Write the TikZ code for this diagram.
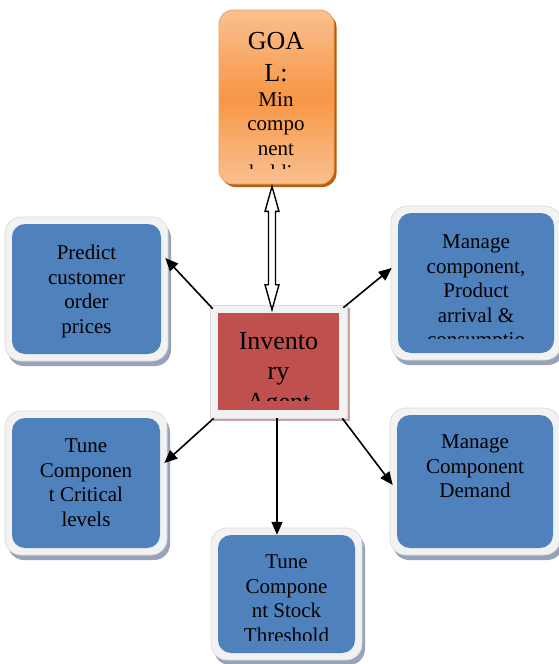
\documentclass[tikz,border=0pt]{standalone}
\usepackage{fontspec}
\setmainfont{Liberation Serif}
\usetikzlibrary{calc,arrows.meta}

\definecolor{taskblue}{HTML}{4F81BD}
\definecolor{taskframe}{HTML}{F2F2F2}
\definecolor{taskedge}{HTML}{DADADA}
\definecolor{taskshadow}{HTML}{97A3BA}
\definecolor{agentred}{HTML}{C0504D}
\definecolor{agentshadow}{HTML}{C9A2A2}
\definecolor{goalmid}{HTML}{F79646}
\definecolor{goallight}{HTML}{FAC090}
\definecolor{goalshadow}{HTML}{B8600F}
\definecolor{goaledge}{HTML}{F3A05C}

\tikzset{
  tshadow/.style={rectangle, rounded corners=16pt, fill=taskshadow, inner sep=0},
  tframe/.style={rectangle, rounded corners=16pt, fill=taskframe, draw=taskedge, line width=0.6pt, inner sep=0},
  tinner/.style={rectangle, rounded corners=13pt, fill=taskblue, inner sep=0},
  tasktext/.style={font=\fontsize{21}{24.5}\selectfont, align=center, inner sep=0, anchor=north},
  link/.style={line width=1.6pt, -{Triangle[length=13pt,width=11pt]}},
  dbl/.style={line width=1.4pt, fill=white, line join=miter},
}

% task box: name, centre x, centre y, inner width, inner height
\newcommand\taskbox[5]{%
  \node[tshadow, minimum width=#4+14, minimum height=#5+14] (#1S) at (#2+3,#3+5) {};
  \node[tframe, minimum width=#4+14, minimum height=#5+14] (#1F) at (#2,#3) {};
  \node[tinner, minimum width=#4, minimum height=#5] (#1) at (#2,#3) {};
}

\begin{document}
\begin{tikzpicture}[x=1pt,y=-1pt]
\useasboundingbox[fill=white] (0,0) rectangle (559,664);

% goal
\node[rectangle, rounded corners=14pt, fill=goalshadow, inner sep=0,
      minimum width=115, minimum height=174] (goalS) at (279,100) {};
\node[rectangle, rounded corners=14pt, inner sep=0, draw=goaledge, line width=0.8pt,
      top color=goallight, bottom color=goallight, middle color=goalmid,
      minimum width=115, minimum height=174] (goal) at (276.5,97) {};
\node[font=\fontsize{26}{32}\selectfont, align=center, inner sep=0, anchor=north]
      (goalT) at (276,32) {GOA\\L:};
\begin{scope}
  \clip (goal.west |- 0,88) rectangle (goal.east |- 0,168);
  \node[tasktext] (goalB) at (276,92) {Min\\compo\\nent\\holdin\\g};
\end{scope}

% inventory agent
\node[rectangle, fill=agentshadow, inner sep=0, minimum width=137, minimum height=113] (invS) at (281.5,364.5) {};
\node[rectangle, fill=taskframe, draw=taskedge, line width=0.6pt, inner sep=0,
      minimum width=137, minimum height=113] (inv) at (278.5,361.5) {};
\node[rectangle, fill=agentred, inner sep=0, minimum width=121, minimum height=97] (invI) at (278.5,361.5) {};
\begin{scope}
  \clip (invI.north west) rectangle (invI.east |- 0,400);
  \node[font=\fontsize{26}{30.5}\selectfont, align=center, inner sep=0, anchor=north]
        (invT) at (278.5,332) {Invento\\ry\\Agent};
\end{scope}

% tasks
\taskbox{pred}{86.5}{289}{149}{130}
\taskbox{mc}{476}{283}{156}{140}
\taskbox{dem}{475}{481.5}{156}{133}
\taskbox{crit}{86}{483}{148}{130}
\taskbox{stock}{286.5}{594}{137}{118}

\node[tasktext] (predT) at (86.5,245) {Predict\\customer\\order\\prices};
\begin{scope}
  \clip (mc.north west) rectangle (mc.east |- 0,338);
  \node[tasktext] (mcT) at (476,235) {Manage\\component,\\Product\\arrival \&\\consumptio\\n};
\end{scope}
\node[tasktext] (demT) at (475,435) {Manage\\Component\\Demand};
\node[tasktext] (critT) at (86,439) {Tune\\Componen\\t Critical\\levels};
\begin{scope}
  \clip (stock.north west) rectangle (stock.east |- 0,640);
  \node[tasktext] (stockT) at (286.5,555) {Tune\\Compone\\nt Stock\\Threshold};
\end{scope}

% two-way link between goal and agent
\coordinate (dtop) at ($(goal.south)+(-4.5,2)$);
\coordinate (dbot) at ($(inv.north -| dtop)+(0,5)$);
\draw[dbl] (dtop) -- ++(7,25) -- ++(-3.5,0) -- ($(dbot)+(3.5,-25)$) -- ++(3.5,0)
  -- (dbot) -- ++(-7,-25) -- ++(3.5,0) -- ($(dtop)+(-3.5,25)$) -- ++(-3.5,0) -- cycle;

% agent to tasks
\draw[link] ($(inv.north west)+(3,4)$) -- ($(predF.east)+(-3,-31)$);
\draw[link] ($(inv.north east)+(-4,3)$) -- ($(mcF.west)+(1,-15)$);
\draw[link] ($(inv.south west)+(4,0)$) -- ($(critF.east)+(-3,-20)$);
\draw[link] ($(inv.south east)+(-5,0)$) -- ($(demF.west)+(3,3.5)$);
\draw[link] ($(inv.south)+(-1.5,0)$) -- ($(stock.north)+(-9.5,0)$);
\end{tikzpicture}
\end{document}
